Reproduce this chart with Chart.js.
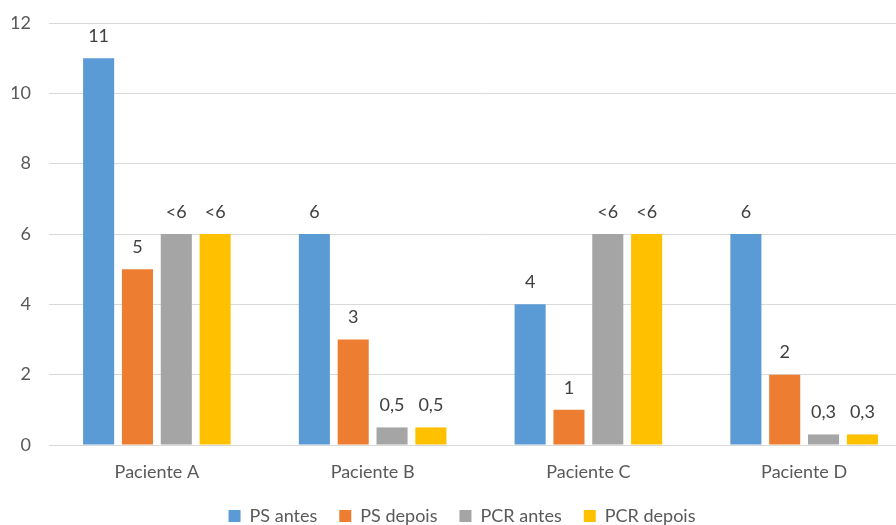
<!DOCTYPE html>
<html>
<head>
<meta charset="utf-8">
<script src="https://cdn.jsdelivr.net/npm/chart.js@4/dist/chart.umd.min.js"></script>
<style>
  html, body { margin: 0; padding: 0; background: #fff; overflow: hidden; }
  #wrap { width: 940px; height: 525px; }
</style>
</head>
<body>
<div id="wrap"><canvas id="c" width="940" height="525"></canvas></div>
<script>
// Patients and measured values before / after
const categories = ["Paciente A", "Paciente B", "Paciente C", "Paciente D"];
const psAntes = [11, 6, 4, 6];
const psDepois = [5, 3, 1, 2];
const pcrAntes = [6, 0.5, 6, 0.3];
const pcrDepois = [6, 0.5, 6, 0.3];

// Text shown above each bar (PCR values below 6 reported as "<6")
const psAntesLabels = ["11", "6", "4", "6"];
const psDepoisLabels = ["5", "3", "1", "2"];
const pcrAntesLabels = ["<6", "0,5", "<6", "0,3"];
const pcrDepoisLabels = ["<6", "0,5", "<6", "0,3"];

const yTicks = [0, 2, 4, 6, 8, 10, 12];

const FONT = "Lato, 'Open Sans', sans-serif";

const valueLabels = {
  id: "valueLabels",
  afterDatasetsDraw(chart) {
    const ctx = chart.ctx;
    ctx.save();
    ctx.font = "18px " + FONT;
    ctx.fillStyle = "#404040";
    ctx.textAlign = "center";
    ctx.textBaseline = "middle";
    chart.data.datasets.forEach((ds, i) => {
      const meta = chart.getDatasetMeta(i);
      meta.data.forEach((bar, j) => {
        ctx.fillText(ds.valueText[j], bar.x, bar.y - 22);
      });
    });
    ctx.restore();
  }
};

new Chart(document.getElementById("c"), {
  type: "bar",
  data: {
    labels: categories,
    datasets: [
      { label: "PS antes", data: psAntes, valueText: psAntesLabels, backgroundColor: "#5B9BD5" },
      { label: "PS depois", data: psDepois, valueText: psDepoisLabels, backgroundColor: "#ED7D31" },
      { label: "PCR antes", data: pcrAntes, valueText: pcrAntesLabels, backgroundColor: "#A5A5A5" },
      { label: "PCR depois", data: pcrDepois, valueText: pcrDepoisLabels, backgroundColor: "#FFC000" }
    ]
  },
  options: {
    responsive: false,
    animation: false,
    categoryPercentage: 0.72,
    barPercentage: 0.8,
    layout: { padding: { top: 23, right: 28, left: 12, bottom: -10 } },
    plugins: {
      tooltip: { enabled: false },
      legend: {
        position: "bottom",
        labels: {
          font: { family: FONT, size: 18 },
          color: "#595959",
          boxWidth: 12,
          boxHeight: 12,
          padding: 22
        }
      }
    },
    scales: {
      x: {
        grid: { display: false },
        border: { display: true, color: "#d9d9d9", width: 1 },
        ticks: { font: { family: FONT, size: 18 }, color: "#595959", padding: 8 },
        afterFit(scale) { scale.height = 40; }
      },
      y: {
        min: 0,
        max: 12,
        afterBuildTicks(scale) { scale.ticks = yTicks.map(v => ({ value: v })); },
        grid: { color: "#d9d9d9", drawTicks: false },
        border: { display: false },
        ticks: { font: { family: FONT, size: 18 }, color: "#595959", padding: 18 },
        afterFit(scale) { scale.width = 37; scale.paddingTop = 0; scale.paddingBottom = 0; }
      }
    }
  },
  plugins: [valueLabels]
});
</script>
</body>
</html>
